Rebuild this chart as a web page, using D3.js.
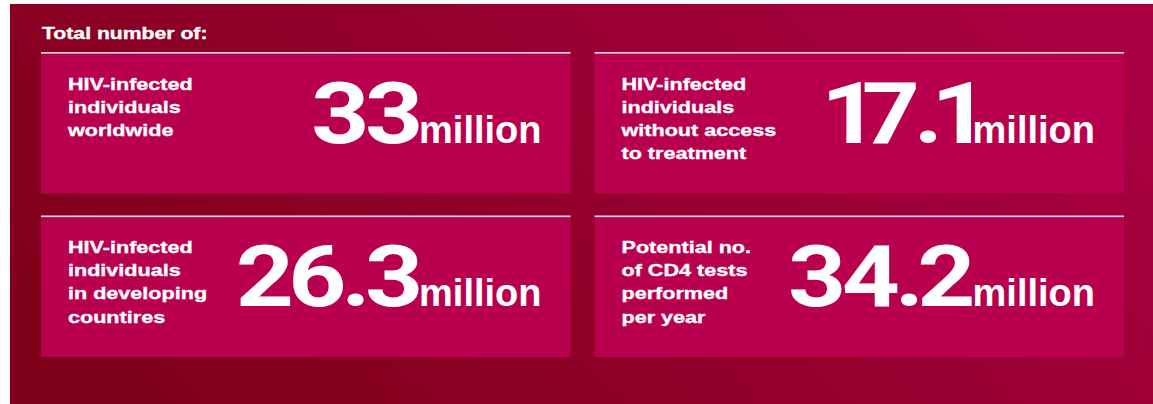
<!DOCTYPE html>
<html>
<head>
<meta charset="utf-8">
<script src="https://cdn.jsdelivr.net/npm/d3@7"></script>
<style>
  html, body { margin: 0; padding: 0; background: #ffffff; }
  svg { display: block; }
  text { font-family: "Liberation Sans", Arial, Helvetica, sans-serif; font-weight: bold; fill: #ffffff; }
  text.fig { font-family: Roboto, "Liberation Sans", sans-serif; font-weight: 700; }
  .soft { stroke: #ffffff; stroke-width: 0.35px; paint-order: stroke; }
</style>
</head>
<body>
<svg id="chart" width="1153" height="404"></svg>
<script>
// Headline figures, laid out as a 2 x 2 grid of tiles
const title = "Total number of:";
const labels = [
  ["HIV-infected", "individuals", "worldwide"],
  ["HIV-infected", "individuals", "without access", "to treatment"],
  ["HIV-infected", "individuals", "in developing", "countires"],
  ["Potential no.", "of CD4 tests", "performed", "per year"]
];
const values = [33, 17.1, 26.3, 34.2];
const unit = "million";
const columns = [0, 1, 0, 1];
const rows = [0, 0, 1, 1];

const W = 1153, H = 404;
const FIG_FONT = "Roboto, 'Liberation Sans', sans-serif";
const svg = d3.select("#chart");

// Background panel with a crimson gradient, darker at lower left
const defs = svg.append("defs");
const grad = defs.append("linearGradient")
  .attr("id", "bg").attr("x1", 0).attr("y1", 0.7).attr("x2", 1).attr("y2", 0.3);
grad.append("stop").attr("offset", 0).attr("stop-color", "#7f0019");
grad.append("stop").attr("offset", 0.5).attr("stop-color", "#93002c");
grad.append("stop").attr("offset", 1).attr("stop-color", "#a80041");

svg.append("rect")
  .attr("x", 10).attr("y", 4)
  .attr("width", W - 10).attr("height", H - 4)
  .attr("fill", "url(#bg)");

// Header
svg.append("text")
  .attr("class", "soft")
  .attr("transform", "translate(42,39) scale(1.3,1)")
  .attr("font-size", 16.3)
  .text(title);

// Grid scales
const x = d3.scaleBand().domain([0, 1]).range([41, 1124]).paddingInner(0.0434);
const y = d3.scaleBand().domain([0, 1]).range([52, 357]).paddingInner(0.1346);
const bw = x.bandwidth(), bh = y.bandwidth();

const tiles = svg.selectAll("g.tile")
  .data(values.map((v, i) => ({ v, i, col: columns[i], row: rows[i], lines: labels[i] })))
  .join("g")
  .attr("class", "tile")
  .attr("transform", d => `translate(${x(d.col)},${y(d.row)})`);

tiles.append("rect")
  .attr("width", bw).attr("height", bh)
  .attr("fill", "#b9004f");

tiles.append("rect")
  .attr("width", bw).attr("height", 1.6)
  .attr("fill", "#f6d3df");

// Description text, several lines
const labelSize = 17, lineH = 23.1;
tiles.append("text")
  .attr("class", "soft")
  .attr("transform", `translate(27,${bh / 2 - 33}) scale(1.27,1)`)
  .attr("font-size", labelSize)
  .selectAll("tspan")
  .data(d => d.lines)
  .join("tspan")
  .attr("x", 0)
  .attr("y", (d, j) => j * lineH)
  .text(d => d);

// Horizontal ink extent and advance of a glyph, found by drawing it and scanning pixels
const cnv = document.createElement("canvas");
cnv.width = 300; cnv.height = 200;
const ctx = cnv.getContext("2d", { willReadFrequently: true });
const inkCache = {};
function ink(ch, size) {
  const key = ch + "|" + size;
  if (inkCache[key]) return inkCache[key];
  ctx.clearRect(0, 0, cnv.width, cnv.height);
  ctx.font = `bold ${size}px ${FIG_FONT}`;
  ctx.fillStyle = "#000";
  const ox = 100, oy = 150;
  ctx.fillText(ch, ox, oy);
  const data = ctx.getImageData(0, 0, cnv.width, cnv.height).data;
  let minX = Infinity, maxX = -Infinity;
  for (let px = 0; px < cnv.width; px++) {
    for (let py = 0; py < cnv.height; py++) {
      if (data[(py * cnv.width + px) * 4 + 3] > 60) {
        if (px < minX) minX = px;
        if (px > maxX) maxX = px;
        break;
      }
    }
  }
  const res = { left: minX - ox, right: maxX + 1 - ox, adv: ctx.measureText(ch).width };
  inkCache[key] = res;
  return res;
}

const unitSize = 38, numSize = 86, numScale = 1.18;
const baseY = bh / 2 + 20;

// Unit word, right-aligned inside the tile
const unitNodes = tiles.append("text")
  .attr("x", bw - 29)
  .attr("y", baseY)
  .attr("text-anchor", "end")
  .attr("font-size", unitSize)
  .text(unit);

const unitWidth = unitNodes.node().getComputedTextLength();
const unitInkLeft = bw - 29 - unitWidth + 0.064 * unitSize;

// Large figure with tight glyph spacing, ending just left of the unit
tiles.each(function (d) {
  const chars = String(d.v).split("");
  let cursor = 0;
  const origins = [];
  for (let k = chars.length - 1; k >= 0; k--) {
    const c = chars[k];
    const m = ink(c, numSize);
    const ox = cursor - m.right;
    origins.unshift(ox);
    const prev = k > 0 ? chars[k - 1] : null;
    const gap = (c === "." || prev === ".") ? 3.5 : 3;
    cursor = ox + m.left - gap / numScale;
  }
  // per-glyph shifts relative to natural advances
  const dx = origins.map((o, k) =>
    k === 0 ? 0 : o - (origins[k - 1] + ink(chars[k - 1], numSize).adv));
  d3.select(this).append("text")
    .attr("class", "fig")
    .attr("transform", `translate(${unitInkLeft - 3.5},${baseY}) scale(${numScale},1)`)
    .attr("font-size", numSize)
    .attr("x", origins[0])
    .attr("dx", dx.join(" "))
    .text(d.v);
});
</script>
</body>
</html>
